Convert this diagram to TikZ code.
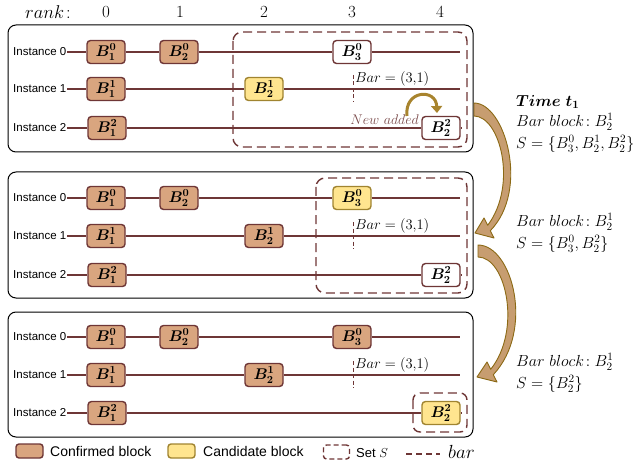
\RequirePackage{fix-cm}
\documentclass[tikz,border=0pt]{standalone}
\usepackage{fontspec}
\setsansfont{Liberation Sans}
\usepackage{amsmath,bm}
\usetikzlibrary{arrows.meta}
\definecolor{brn}{HTML}{6E3636}
\definecolor{conffill}{HTML}{D9A57F}
\definecolor{candfill}{HTML}{FFE58F}
\definecolor{canddraw}{HTML}{A08430}
\definecolor{newtxt}{HTML}{7A4A4A}
\definecolor{arrfill}{HTML}{C79D70}
\definecolor{arrdraw}{HTML}{8B6914}
\definecolor{smallarr}{HTML}{A8842E}
\tikzset{
  blk/.style={rectangle, rounded corners=3.5pt, minimum width=38pt, minimum height=23pt,
    line width=1.4pt, draw=brn, inner sep=0pt, font=\fontsize{15.5}{15.5}\selectfont},
  conf/.style={blk, fill=conffill},
  cand/.style={blk, fill=candfill, draw=canddraw},
  newb/.style={blk, fill=white},
  lab/.style={font=\sffamily\fontsize{11.5}{11.5}\selectfont, anchor=east, inner sep=0.5pt},
  rowline/.style={draw=brn, line width=1.4pt},
  setbox/.style={draw=brn, dash pattern=on 9pt off 5pt, line width=1.4pt, rounded corners=9pt},
  panel/.style={draw=black, line width=1pt, rounded corners=8pt},
  barline/.style={draw=brn, line width=1pt, dash pattern=on 4pt off 2.5pt},
  mtxt/.style={anchor=west, inner sep=0pt, font=\fontsize{16}{16}\selectfont},
  ranklab/.style={font=\fontsize{17}{17}\selectfont, inner sep=0pt},
}
\newcommand\bk[2]{$\bm{B^{#1}_{#2}}$}
% #1 prefix, #2 #3 #4 row y, #5 style B21, #6 style B30, #7 style B22
\newcommand\panelrows[7]{%
  \node[lab] (#1l0) at (67,#2) {Instance 0};
  \node[lab] (#1l1) at (67,#3) {Instance 1};
  \node[lab] (#1l2) at (67,#4) {Instance 2};
  \node[conf] (#1b10) at (106,#2) {\bk{0}{1}};
  \node[conf] (#1b20) at (179,#2) {\bk{0}{2}};
  \node[#6] (#1b30) at (352,#2) {\bk{0}{3}};
  \coordinate (#1e0) at (460,#2);
  \node[conf] (#1b11) at (106,#3) {\bk{1}{1}};
  \node[#5] (#1b21) at (264,#3) {\bk{1}{2}};
  \coordinate (#1e1) at (460,#3);
  \node[conf] (#1b12) at (107,#4) {\bk{2}{1}};
  \node[#7] (#1b22) at (441,#4) {\bk{2}{2}};
  \coordinate (#1e2) at (462,#4);
  \draw[rowline] (#1l0) -- (#1b10) -- (#1b20) -- (#1b30) -- (#1e0);
  \draw[rowline] (#1l1) -- (#1b11) -- (#1b21) -- (#1e1);
  \draw[rowline] (#1l2) -- (#1b12) -- (#1b22) -- (#1e2);
  \coordinate (#1bt) at (353,#3-14);
  \coordinate (#1bb) at (353,#3+13);
  \draw[barline] (#1bt) -- (#1bb);
  \node[anchor=west, inner sep=0pt, font=\fontsize{14.5}{14.5}\selectfont] (#1bartxt) at (355,#3-10) {$Bar=(3{,}1)$};
}
\begin{document}
\begin{tikzpicture}[x=1pt,y=-1pt]
\useasboundingbox (0,0) rectangle (634,465);
% rank header
\node[ranklab, font=\fontsize{18.5}{18.5}\selectfont] (rk) at (48,12) {$rank\!:$};
\node[ranklab] (r0) at (106,12) {0};
\node[ranklab] (r1) at (180,12) {1};
\node[ranklab] (r2) at (264,12) {2};
\node[ranklab] (r3) at (352,12) {3};
\node[ranklab] (r4) at (440,12) {4};
% panels
\draw[panel] (8,25) rectangle (473,152);
\draw[panel] (8,172) rectangle (473,298);
\draw[panel] (8,312) rectangle (473,437);
% set boxes
\draw[setbox] (233,32) rectangle (467,147);
\draw[setbox] (316,178) rectangle (467,293);
\draw[setbox, rounded corners=7pt] (413,393) rectangle (467,432);
\panelrows{a}{52}{89}{128}{cand}{newb}{newb}
\panelrows{b}{198}{236}{275}{conf}{cand}{newb}
\panelrows{c}{337}{375}{413}{conf}{conf}{cand}
% new added
\node[anchor=east, inner sep=0pt, text=newtxt, font=\fontsize{14}{14}\selectfont] (nadd) at (419,120) {$New\ added$};
\coordinate (na1) at (407,116);
\coordinate (na2) at (437,113);
\draw[smallarr, line width=3pt, -{Triangle[length=7pt,width=11pt]}] (na1) .. controls (404,90) and (436,88) .. (na2);
% big arrows
\draw[fill=arrfill, draw=arrdraw, line width=0.9pt, line join=round]
  (474,103) .. controls (505,103) and (530,190) .. (490.3,230.7)
  -- (494,238) -- (475,233) -- (484,218) -- (487.7,225.3)
  .. controls (518,185) and (500,116) .. (474,116) -- cycle;
\draw[fill=arrfill, draw=arrdraw, line width=0.9pt, line join=round]
  (478,245) .. controls (512,245) and (535,330) .. (493.3,374.7)
  -- (497,382) -- (477,377) -- (487,362) -- (490.7,369.3)
  .. controls (522,330) and (506,257) .. (478,257) -- cycle;
% right texts
\node[mtxt] (t1) at (516,102) {$\bm{Time\ t_1}$};
\node[mtxt] (t2) at (516,122) {$Bar\ block\!: B_2^1$};
\node[mtxt] (t3) at (516,144) {$S=\{B_3^0,B_2^1,B_2^2\}$};
\node[mtxt] (t4) at (516,222) {$Bar\ block\!: B_2^1$};
\node[mtxt] (t5) at (516,244) {$S=\{B_3^0,B_2^2\}$};
\node[mtxt] (t6) at (516,362) {$Bar\ block\!: B_2^1$};
\node[mtxt] (t7) at (516,384) {$S=\{B_2^2\}$};
% legend
\node[rectangle, rounded corners=3pt, line width=1.4pt, draw=brn, fill=conffill, minimum width=27pt, minimum height=14pt, inner sep=0pt] (lg1) at (29.5,451) {};
\node[anchor=west, inner sep=0pt, font=\sffamily\fontsize{14}{14}\selectfont] (lg1t) at (50,451) {Confirmed block};
\node[rectangle, rounded corners=3pt, line width=1.4pt, draw=canddraw, fill=candfill, minimum width=27pt, minimum height=14pt, inner sep=0pt] (lg2) at (181.5,451) {};
\node[anchor=west, inner sep=0pt, font=\sffamily\fontsize{14}{14}\selectfont] (lg2t) at (203,451) {Candidate block};
\node[rectangle, rounded corners=3pt, line width=1.4pt, draw=brn, dash pattern=on 5pt off 3pt, minimum width=26pt, minimum height=14pt, inner sep=0pt] (lg3) at (336.5,452) {};
\node[anchor=west, inner sep=0pt, font=\sffamily\fontsize{13}{13}\selectfont] (lg3t) at (356,453) {Set $S$};
\coordinate (lg4a) at (406,454);
\coordinate (lg4b) at (440,454);
\draw[barline, line width=1.4pt, dash pattern=on 6pt off 4pt] (lg4a) -- (lg4b);
\node[anchor=west, inner sep=0pt, font=\fontsize{19}{19}\selectfont] (lg4t) at (448,452) {$bar$};
\end{tikzpicture}
\end{document}
